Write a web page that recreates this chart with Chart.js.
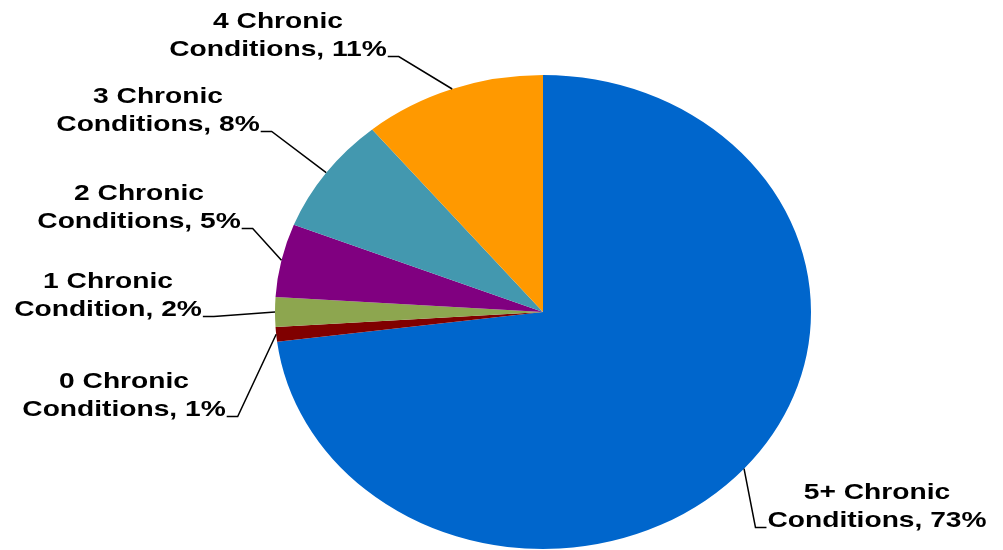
<!DOCTYPE html>
<html>
<head>
<meta charset="utf-8">
<script src="https://cdn.jsdelivr.net/npm/chart.js@4"></script>
<style>
  body { margin: 0; background: #fff; }
</style>
</head>
<body>
<canvas id="chart" width="1003" height="550"></canvas>
<script>
const categories = [
  ['5+ Chronic', 'Conditions'],
  ['0 Chronic', 'Conditions'],
  ['1 Chronic', 'Condition'],
  ['2 Chronic', 'Conditions'],
  ['3 Chronic', 'Conditions'],
  ['4 Chronic', 'Conditions']
];
const shares = [73, 1, 2, 5, 8, 11];
const colors = ['#0066CC', '#800000', '#8DA64F', '#800080', '#4398AF', '#FF9900'];

// where each label sits (centre x, first line y) and which side the leader leaves from
const labelSpots = [
  { x: 877, y: 493, side: 'left' },
  { x: 124, y: 382, side: 'right' },
  { x: 108, y: 282, side: 'right' },
  { x: 139, y: 194, side: 'right' },
  { x: 158, y: 97, side: 'right' },
  { x: 278, y: 22, side: 'right' }
];

const stretchX = 268 / 237;   // pie in the picture is an ellipse
const textStretch = 1.28;     // text is wide too

const ellipse = {
  id: 'ellipse',
  beforeDatasetsDraw(chart) {
    const arc = chart.getDatasetMeta(0).data[0];
    const ctx = chart.ctx;
    ctx.save();
    ctx.translate(arc.x, arc.y);
    ctx.scale(stretchX, 1);
    ctx.translate(-arc.x, -arc.y);
  },
  afterDatasetsDraw(chart) {
    chart.ctx.restore();
  }
};

const leaderLabels = {
  id: 'leaderLabels',
  afterDraw(chart) {
    const ctx = chart.ctx;
    const meta = chart.getDatasetMeta(0);
    ctx.save();
    ctx.font = 'bold 22px "Liberation Sans", Arial, sans-serif';
    ctx.fillStyle = '#000';
    ctx.textBaseline = 'middle';
    ctx.textAlign = 'center';
    meta.data.forEach((arc, i) => {
      const spot = labelSpots[i];
      const lines = categories[i].slice();
      lines[lines.length - 1] += ', ' + shares[i] + '%';
      lines.forEach((t, j) => {
        ctx.save();
        ctx.translate(spot.x, spot.y + j * 27.5);
        ctx.scale(textStretch, 1);
        ctx.fillText(t, 0, 0);
        ctx.restore();
      });

      // leader line: text -> short elbow -> middle of the slice edge
      const last = lines[lines.length - 1];
      const w = ctx.measureText(last).width * textStretch;
      const ly = spot.y + 27.5 + 7;
      const mid = (arc.startAngle + arc.endAngle) / 2;
      const px = arc.x + Math.cos(mid) * arc.outerRadius * stretchX;
      const py = arc.y + Math.sin(mid) * arc.outerRadius;
      let ax, ex;
      if (spot.side === 'right') {
        ax = spot.x + w / 2 + 1;
        ex = ax + 11;
      } else {
        ax = spot.x - w / 2 - 1;
        ex = ax - 11;
      }
      ctx.beginPath();
      ctx.moveTo(ax, ly);
      ctx.lineTo(ex, ly);
      ctx.lineTo(px, py);
      ctx.lineWidth = 1.5;
      ctx.strokeStyle = '#000';
      ctx.stroke();
    });
    ctx.restore();
  }
};

new Chart(document.getElementById('chart'), {
  type: 'pie',
  data: {
    labels: categories.map((c) => c.join(' ')),
    datasets: [{
      data: shares,
      backgroundColor: colors,
      borderWidth: 0,
      hoverOffset: 0
    }]
  },
  options: {
    responsive: false,
    animation: false,
    layout: {
      padding: { top: 75, bottom: 1, left: 83, right: 0 }
    },
    plugins: {
      legend: { display: false },
      tooltip: { enabled: false }
    }
  },
  plugins: [ellipse, leaderLabels]
});
</script>
</body>
</html>
